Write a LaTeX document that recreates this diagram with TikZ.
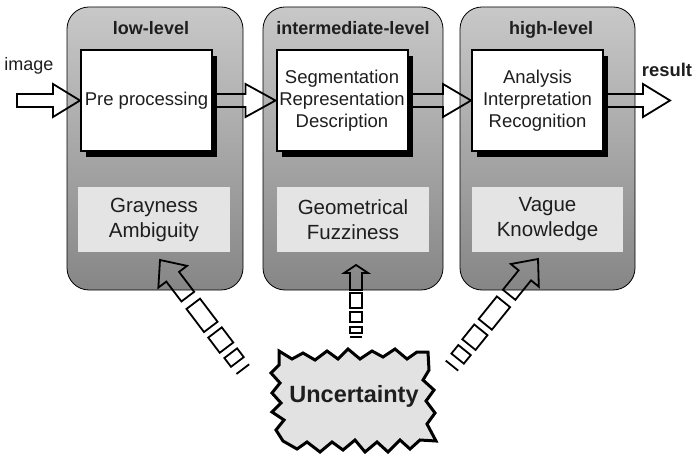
\documentclass[tikz,border=0pt]{standalone}
\usepackage{fontspec}
\setmainfont{Liberation Sans}
\usetikzlibrary{calc,shadows}
\definecolor{panelTop}{HTML}{C8C8C8}
\definecolor{panelBot}{HTML}{868686}
\definecolor{lab}{HTML}{E4E4E4}
\definecolor{txt}{HTML}{1E1E1E}
\definecolor{cloudfill}{HTML}{E2E2E2}
\newcommand\fragBig[2]{%
  \begin{scope}[shift={(#1)}, rotate=#2]
    \draw[fragarr] (0,0) -- (21,18) -- (21,8) -- (46,8) -- (46,-8) -- (21,-8) -- (21,-18) -- cycle;
    \draw[fragarr] (55,-8.5) rectangle (84,8.5);
    \draw[fragarr] (91,-8.5) rectangle (110,8.5);
    \draw[fragarr] (117,-8) rectangle (128,8);
    \draw[fragarr] (137,-8) -- (137,8);
  \end{scope}}
\newcommand\fragSmall[2]{%
  \begin{scope}[shift={(#1)}, rotate=#2]
    \draw[fragarr] (0,0) -- (8,12) -- (8,6) -- (25,6) -- (25,-6) -- (8,-6) -- (8,-12) -- cycle;
    \draw[fragarr] (28,-6) rectangle (43,6);
    \draw[fragarr] (47,-6) rectangle (57,6);
    \draw[fragarr] (62,-6) rectangle (68,6);
    \draw[fragarr] (72,-6) -- (72,6);
  \end{scope}}
\begin{document}
\begin{tikzpicture}[x=1pt,y=-1pt,
  panel/.style={draw=black, line width=0.8pt, rounded corners=22pt, top color=panelTop, bottom color=panelBot, minimum height=283pt, inner sep=0pt},
  mainbox/.style={draw=black, line width=2pt, fill=white, minimum width=131pt, minimum height=101pt, align=center, font=\fontsize{18.5}{22}\selectfont, text=txt, inner sep=0pt, drop shadow={shadow xshift=5pt, shadow yshift=-6pt, fill=black, opacity=1}},
  labbox/.style={fill=lab, minimum height=64pt, align=center, font=\fontsize{20.5}{25}\selectfont, text=txt, inner sep=0pt},
  title/.style={anchor=base, font=\bfseries\fontsize{18}{22}\selectfont, text=txt, inner sep=0pt},
  side/.style={anchor=base, font=\fontsize{18}{22}\selectfont, text=txt, inner sep=0pt},
  blockarr/.style={draw=black, line width=1.8pt, line join=miter},
  fragarr/.style={draw=black, line width=1.8pt, line join=miter},
]
\useasboundingbox (0,0) rectangle (695,454);

% panels
\node[panel, minimum width=176pt] (p1) at (155,148.5) {};
\node[panel, minimum width=180pt] (p2) at (353,148.5) {};
\node[panel, minimum width=175pt] (p3) at (547.5,148.5) {};

% titles
\node[title] (t1) at (151,35) {low-level};
\node[title] (t2) at (353,35) {intermediate-level};
\node[title] (t3) at (551,35) {high-level};

% gray labels
\node[labbox, minimum width=152pt] (l1) at (154,219.5) {Grayness\\Ambiguity};
\node[labbox, minimum width=152pt] (l2) at (353,219.5) {Geometrical\\Fuzziness};
\node[labbox, minimum width=151pt] (l3) at (547.5,219.5) {Vague\\Knowledge};

% main boxes
\node[mainbox] (b1) at (146.5,100.5) {Pre processing};
\node[mainbox] (b2) at (342,100.5) {Segmentation\\Representation\\Description};
\node[mainbox] (b3) at (537.5,100.5) {Analysis\\Interpretation\\Recognition};

% side texts
\node[side] (img) at (29,71) {image};
\node[side, font=\bfseries\fontsize{18.4}{22}\selectfont] (res) at (667,77) {result};

\coordinate (in) at (17,101);
\coordinate (out) at (670,101);

% block arrows
\draw[blockarr] let \p1=(in), \p2=(b1.west) in
  (\x1,\y2+6.5pt) -- (\x2-27pt,\y2+6.5pt) -- (\x2-27pt,\y2+16.5pt) -- (\x2,\y2)
  -- (\x2-27pt,\y2-16.5pt) -- (\x2-27pt,\y2-6.5pt) -- (\x1,\y2-6.5pt) -- cycle;
\draw[blockarr] let \p1=(b1.east), \p2=(b2.west) in
  (\x1,\y2+6.5pt) -- (\x2-30pt,\y2+6.5pt) -- (\x2-30pt,\y2+16.5pt) -- (\x2,\y2)
  -- (\x2-30pt,\y2-16.5pt) -- (\x2-30pt,\y2-6.5pt) -- (\x1,\y2-6.5pt);
\draw[blockarr] let \p1=(b2.east), \p2=(b3.west) in
  (\x1,\y2+6.5pt) -- (\x2-28pt,\y2+6.5pt) -- (\x2-28pt,\y2+16.5pt) -- (\x2,\y2)
  -- (\x2-28pt,\y2-16.5pt) -- (\x2-28pt,\y2-6.5pt) -- (\x1,\y2-6.5pt);
\draw[blockarr] let \p1=(b3.east), \p2=(out) in
  (\x1,\y1+6.5pt) -- (\x2-27pt,\y1+6.5pt) -- (\x2-27pt,\y1+16.5pt) -- (\x2,\y1)
  -- (\x2-27pt,\y1-16.5pt) -- (\x2-27pt,\y1-6.5pt) -- (\x1,\y1-6.5pt);

% uncertainty cloud
\draw[line width=3pt, line join=miter, miter limit=4, fill=cloudfill]
  (279,351) -- (292,359) -- (303,353) -- (315,360) -- (327,351) -- (338,359) -- (348,349)
  -- (360,359) -- (372,351) -- (383,357) -- (395,349) -- (407,359) -- (417,352) -- (428,352)
  -- (429,370) -- (423,380) -- (434,390) -- (426,401) -- (435,413) -- (427,424) -- (436,441)
  -- (420,440) -- (410,449) -- (400,440) -- (388,452) -- (377,442) -- (365,452) -- (355,440)
  -- (343,450) -- (332,442) -- (320,452) -- (307,442) -- (297,449) -- (283,441)
  -- (276,430) -- (284,420) -- (272,412) -- (281,403) -- (272,393) -- (280,383) -- (271,373)
  -- (279,365) -- cycle;
\node[font=\bfseries\fontsize{23.5}{28}\selectfont, text=txt] (unc) at (354,396) {Uncertainty};

% fragmented arrows from Uncertainty
\coordinate (tipL) at (160,260);
\coordinate (tipM) at (356,265);
\coordinate (tipR) at (538,259);
\fragBig{tipL}{-52.8}
\fragSmall{tipM}{-90}
\fragBig{tipR}{-128.9}
\end{tikzpicture}
\end{document}
